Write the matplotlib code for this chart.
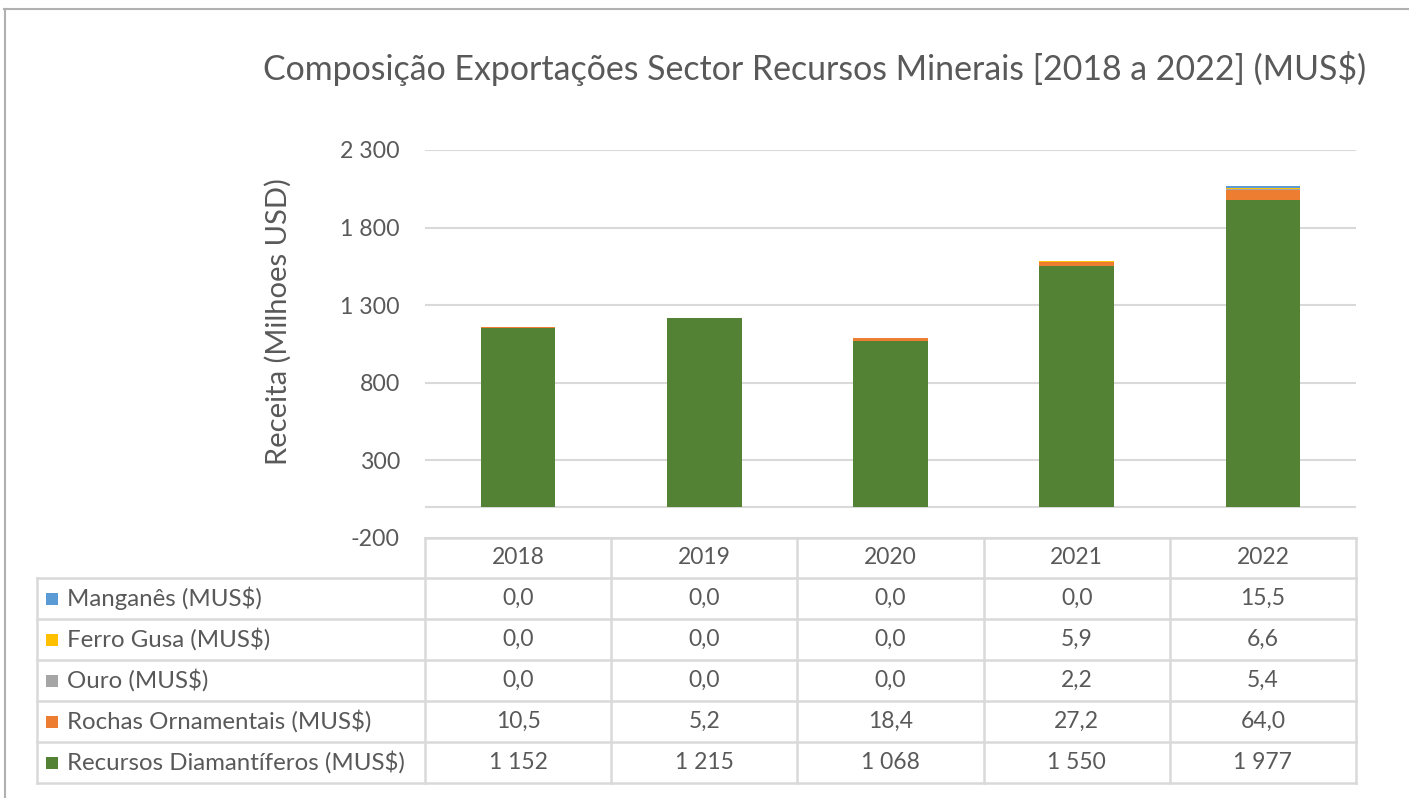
import matplotlib
matplotlib.use("Agg")
import matplotlib.pyplot as plt
from matplotlib.lines import Line2D
from matplotlib.patches import Rectangle
import numpy as np

plt.rcParams['font.family'] = ['Lato', 'DejaVu Sans']

years = ["2018", "2019", "2020", "2021", "2022"]
series_names = ["Manganês (MUS$)", "Ferro Gusa (MUS$)", "Ouro (MUS$)",
                "Rochas Ornamentais (MUS$)", "Recursos Diamantíferos (MUS$)"]
manganes = [0.0, 0.0, 0.0, 0.0, 15.5]
ferro_gusa = [0.0, 0.0, 0.0, 5.9, 6.6]
ouro = [0.0, 0.0, 0.0, 2.2, 5.4]
rochas = [10.5, 5.2, 18.4, 27.2, 64.0]
diamantiferos = [1152, 1215, 1068, 1550, 1977]
series_values = [manganes, ferro_gusa, ouro, rochas, diamantiferos]
series_colors = ["#5B9BD5", "#FFC000", "#A5A5A5", "#ED7D31", "#548235"]
yticks = [-200, 300, 800, 1300, 1800, 2300]

title = "Composição Exportações Sector Recursos Minerais [2018 a 2022] (MUS$)"
ylabel = "Receita (Milhoes USD)"

W, H = 1409, 798
fig = plt.figure(figsize=(W / 100, H / 100), dpi=100)
txt = "#595959"
gridc = "#D9D9D9"


def fx(x):
    return x / W


def fy(y):
    return 1 - y / H


# axes placement (pixels)
L, R, T, B = 425, 1356, 150, 538
ax = fig.add_axes([fx(L), fy(B), fx(R) - fx(L), fy(T) - fy(B)])
x = np.arange(len(years))
bottom = np.zeros(len(years))
# stack from bottom: diamantiferos, rochas, ouro, ferro, manganes
for name, vals, col in list(zip(series_names, series_values, series_colors))[::-1]:
    v = np.array(vals, dtype=float)
    ax.bar(x, v, bottom=bottom, width=0.4, color=col, edgecolor="none", zorder=3)
    bottom += v

ax.set_xlim(-0.5, len(years) - 0.5)
ax.set_ylim(yticks[0], yticks[-1])
ax.set_yticks(yticks)
ax.set_yticklabels([f"{t:,}".replace(",", " ") for t in yticks],
                   fontsize=16.7, color=txt)
ax.tick_params(axis="y", length=0, pad=18)
ax.tick_params(axis="x", length=0, labelbottom=False)
ax.grid(axis="y", color=gridc, linewidth=1.5, zorder=0)
ax.axhline(0, color=gridc, linewidth=1.5, zorder=2)
for s in ax.spines.values():
    s.set_visible(False)
ax.set_ylabel(ylabel, fontsize=21, color=txt)
ax.yaxis.set_label_coords(-(L - 292) / (R - L), (B - 322) / (B - T))

fig.text(fx(815), fy(68), title, fontsize=24.4, color=txt, ha="center", va="center")

# ---- data table ----
col_w = (R - L) / len(years)
col_edges = [L + i * col_w for i in range(len(years) + 1)]
row_tops = [538, 578, 619, 660, 701, 742, 783]
left_edge = 37


def hline(x0, x1, y):
    fig.add_artist(Line2D([fx(x0), fx(x1)], [fy(y), fy(y)], color=gridc, linewidth=1.8,
                          transform=fig.transFigure))


def vline(x, y0, y1):
    fig.add_artist(Line2D([fx(x), fx(x)], [fy(y0), fy(y1)], color=gridc, linewidth=1.8,
                          transform=fig.transFigure))


hline(L, R, row_tops[0])
for y in row_tops[1:]:
    hline(left_edge, R, y)
vline(left_edge, row_tops[1], row_tops[-1])
for xe in col_edges:
    vline(xe, row_tops[0], row_tops[-1])

# header
for i, yr in enumerate(years):
    fig.text(fx(L + (i + 0.5) * col_w), fy((row_tops[0] + row_tops[1]) / 2), yr,
             fontsize=16.5, color=txt, ha="center", va="center")


def fmt(v):
    if v >= 1000:
        return f"{int(round(v)):,}".replace(",", " ")
    return f"{v:.1f}".replace(".", ",")


for r, (name, vals, col) in enumerate(zip(series_names, series_values, series_colors)):
    yc = (row_tops[r + 1] + row_tops[r + 2]) / 2
    fig.add_artist(Rectangle((fx(46), fy(yc + 6)), fx(12), 12 / H, facecolor=col,
                             edgecolor="none", transform=fig.transFigure))
    fig.text(fx(67), fy(yc), name, fontsize=17.3, color=txt, ha="left", va="center")
    for i, v in enumerate(vals):
        fig.text(fx(L + (i + 0.5) * col_w), fy(yc), fmt(v), fontsize=16.5, color=txt,
                 ha="center", va="center")

# outer frame (top and left)
fig.add_artist(Line2D([fx(4), 1], [fy(9), fy(9)], color="#B0B0B0", linewidth=1.5,
                      transform=fig.transFigure))
fig.add_artist(Line2D([fx(5), fx(5)], [fy(9), 0], color="#B0B0B0", linewidth=1.5,
                      transform=fig.transFigure))

fig.savefig("out.png", dpi=100)
